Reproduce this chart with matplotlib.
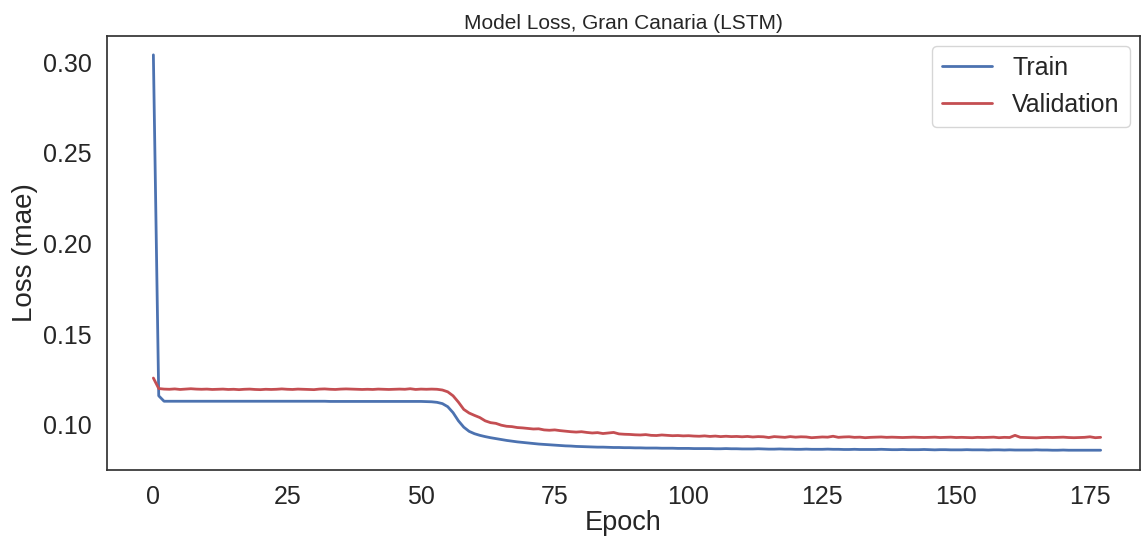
import matplotlib
matplotlib.use("Agg")
from matplotlib import pyplot as plt
import seaborn as sns

# loss per epoch
train_loss = [
    0.3040, 0.1160, 0.1130, 0.1130, 0.1130, 0.1130, 0.1130, 0.1130, 0.1130, 0.1130,
    0.1130, 0.1130, 0.1130, 0.1130, 0.1130, 0.1130, 0.1130, 0.1130, 0.1130, 0.1130,
    0.1130, 0.1130, 0.1130, 0.1130, 0.1130, 0.1130, 0.1130, 0.1130, 0.1130, 0.1130,
    0.1130, 0.1130, 0.1130, 0.1129, 0.1129, 0.1129, 0.1129, 0.1129, 0.1129, 0.1129,
    0.1129, 0.1129, 0.1129, 0.1129, 0.1129, 0.1129, 0.1129, 0.1129, 0.1129, 0.1129,
    0.1129, 0.1128, 0.1127, 0.1124, 0.1117, 0.1100, 0.1067, 0.1022, 0.0987, 0.0964,
    0.0951, 0.0942, 0.0935, 0.0929, 0.0924, 0.0919, 0.0914, 0.0910, 0.0906, 0.0903,
    0.0900, 0.0897, 0.0894, 0.0892, 0.0890, 0.0888, 0.0886, 0.0884, 0.0883, 0.0881,
    0.0880, 0.0879, 0.0878, 0.0877, 0.0877, 0.0876, 0.0875, 0.0875, 0.0874, 0.0874,
    0.0873, 0.0873, 0.0872, 0.0872, 0.0872, 0.0871, 0.0871, 0.0871, 0.0870, 0.0870,
    0.0870, 0.0869, 0.0869, 0.0869, 0.0869, 0.0868, 0.0868, 0.0869, 0.0868, 0.0868,
    0.0867, 0.0867, 0.0867, 0.0868, 0.0867, 0.0866, 0.0866, 0.0867, 0.0866, 0.0866,
    0.0865, 0.0865, 0.0866, 0.0865, 0.0865, 0.0865, 0.0866, 0.0865, 0.0865, 0.0864,
    0.0864, 0.0865, 0.0864, 0.0864, 0.0864, 0.0864, 0.0865, 0.0864, 0.0863, 0.0863,
    0.0864, 0.0863, 0.0863, 0.0863, 0.0864, 0.0863, 0.0862, 0.0863, 0.0863, 0.0862,
    0.0862, 0.0862, 0.0863, 0.0862, 0.0862, 0.0862, 0.0861, 0.0862, 0.0862, 0.0861,
    0.0862, 0.0861, 0.0861, 0.0861, 0.0861, 0.0862, 0.0861, 0.0861, 0.0860, 0.0860,
    0.0861, 0.0860, 0.0860, 0.0860, 0.0860, 0.0860, 0.0860, 0.0860,
]

val_loss = [
    0.1258, 0.1200, 0.1197, 0.1196, 0.1198, 0.1195, 0.1197, 0.1199, 0.1197, 0.1196,
    0.1197, 0.1195, 0.1196, 0.1197, 0.1195, 0.1196, 0.1194, 0.1196, 0.1197, 0.1195,
    0.1194, 0.1196, 0.1195, 0.1196, 0.1198, 0.1196, 0.1195, 0.1197, 0.1196, 0.1195,
    0.1194, 0.1197, 0.1198, 0.1196, 0.1195, 0.1197, 0.1198, 0.1197, 0.1196, 0.1195,
    0.1196, 0.1195, 0.1197, 0.1196, 0.1195, 0.1196, 0.1197, 0.1196, 0.1199, 0.1195,
    0.1197, 0.1196, 0.1197, 0.1196, 0.1192, 0.1182, 0.1160, 0.1125, 0.1085, 0.1065,
    0.1052, 0.1040, 0.1022, 0.1012, 0.1008, 0.0998, 0.0992, 0.0990, 0.0985, 0.0983,
    0.0980, 0.0977, 0.0978, 0.0972, 0.0970, 0.0972, 0.0968, 0.0965, 0.0962, 0.0960,
    0.0962, 0.0958, 0.0955, 0.0957, 0.0952, 0.0955, 0.0958, 0.0950, 0.0948, 0.0947,
    0.0945, 0.0944, 0.0946, 0.0942, 0.0941, 0.0944, 0.0942, 0.0940, 0.0941, 0.0939,
    0.0940, 0.0938, 0.0937, 0.0939, 0.0936, 0.0938, 0.0935, 0.0937, 0.0935, 0.0936,
    0.0934, 0.0936, 0.0933, 0.0935, 0.0934, 0.0930, 0.0935, 0.0933, 0.0931, 0.0935,
    0.0932, 0.0934, 0.0933, 0.0929, 0.0931, 0.0933, 0.0932, 0.0937, 0.0931, 0.0933,
    0.0934, 0.0931, 0.0932, 0.0929, 0.0931, 0.0932, 0.0933, 0.0931, 0.0932, 0.0931,
    0.0930, 0.0931, 0.0932, 0.0931, 0.0930, 0.0931, 0.0932, 0.0930, 0.0931, 0.0932,
    0.0930, 0.0931, 0.0930, 0.0929, 0.0931, 0.0930, 0.0931, 0.0932, 0.0929, 0.0931,
    0.0930, 0.0942, 0.0931, 0.0930, 0.0929, 0.0928, 0.0930, 0.0931, 0.0930, 0.0931,
    0.0932, 0.0930, 0.0929, 0.0930, 0.0931, 0.0934, 0.0929, 0.0931,
]

epochs = list(range(len(train_loss)))

sns.set_theme(style="white")
plt.rcParams['font.family'] = ['Arial', 'Liberation Sans', 'DejaVu Sans']

fig, ax = plt.subplots(figsize=(11.42, 5.4), dpi=100)
ax.plot(epochs, train_loss, color="#4c72b0", lw=2, label="Train")
ax.plot(epochs, val_loss, color="#c44e52", lw=2, label="Validation")

ax.set_title("Model Loss, Gran Canaria (LSTM)", fontsize=15, pad=5)
ax.set_xlabel("Epoch", fontsize=19.5, labelpad=1)
ax.set_ylabel("Loss (mae)", fontsize=20, labelpad=4)
ax.set_xticks([0, 25, 50, 75, 100, 125, 150, 175])
ax.set_yticks([0.10, 0.15, 0.20, 0.25, 0.30])
ax.tick_params(labelsize=18, pad=5)
ax.set_xlim(-8.6, 184.3)
ax.set_ylim(0.0752, 0.3143)
for s in ax.spines.values():
    s.set_color("#333333")
ax.legend(loc="upper right", fontsize=18, borderaxespad=0.4)

fig.subplots_adjust(left=0.094, right=0.998, top=0.933, bottom=0.13)
fig.savefig("out.png")
